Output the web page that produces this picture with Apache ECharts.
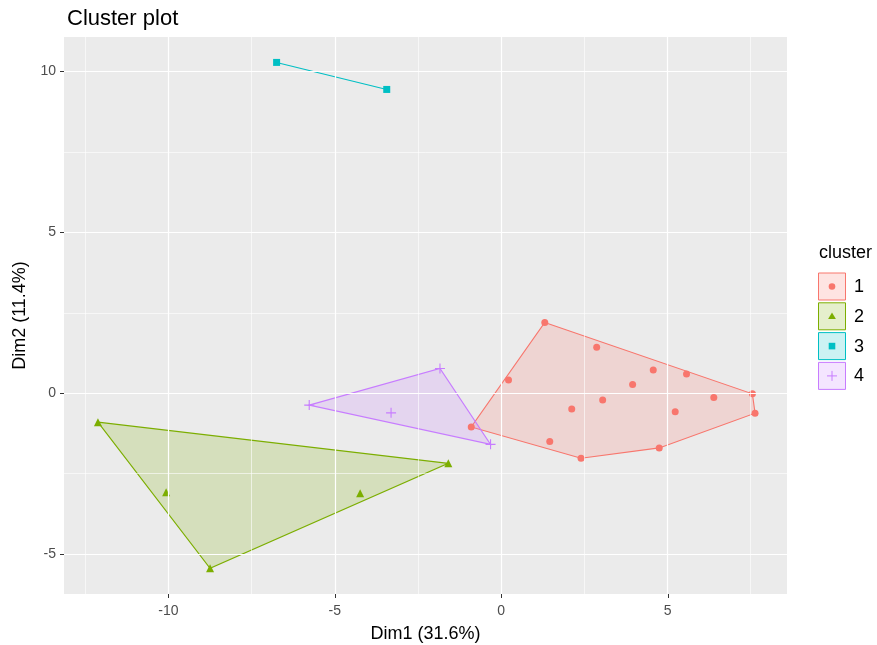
<!DOCTYPE html>
<html>
<head>
<meta charset="utf-8">
<script src="https://cdn.jsdelivr.net/npm/echarts@6/dist/echarts.min.js"></script>
<style>html,body{margin:0;padding:0;background:#fff}#c{width:877px;height:645px}</style>
</head>
<body>
<div id="c"></div>
<script>
// ---- data ----
const cluster1X = [1.31, 2.87, 0.22, 4.57, 5.57, 3.95, 3.05, 2.12, 6.39, 7.55, 7.63, 5.23, -0.90, 1.46, 2.40, 4.75];
const cluster1Y = [2.20, 1.43, 0.41, 0.72, 0.60, 0.27, -0.21, -0.49, -0.13, -0.02, -0.62, -0.58, -1.05, -1.50, -2.02, -1.70];
const cluster1Hull = [0, 9, 10, 15, 14, 12];
const cluster2X = [-12.12, -10.07, -8.75, -4.24, -1.59];
const cluster2Y = [-0.90, -3.08, -5.44, -3.11, -2.18];
const cluster2Hull = [0, 4, 2];
const cluster3X = [-6.75, -3.44];
const cluster3Y = [10.28, 9.44];
const cluster3Hull = [0, 1];
const cluster4X = [-5.77, -1.84, -3.31, -0.32];
const cluster4Y = [-0.37, 0.77, -0.61, -1.59];
const cluster4Hull = [0, 1, 3];
const clusterNames = ['1', '2', '3', '4'];
const xTicks = [-10, -5, 0, 5];
const yTicks = [-5, 0, 5, 10];
const xMinor = [-12.5, -7.5, -2.5, 2.5, 7.5];
const yMinor = [-2.5, 2.5, 7.5];
const xRange = [-13.14, 8.59];
const yRange = [-6.24, 11.07];

const colors = ['#F8766D', '#7CAE00', '#00BFC4', '#C77CFF'];
const fills = ['rgba(248,118,109,0.2)', 'rgba(124,174,0,0.2)', 'rgba(0,191,196,0.2)', 'rgba(199,124,255,0.2)'];
const plusPath = 'path://M4.45,0H5.55V4.45H10V5.55H5.55V10H4.45V5.55H0V4.45H4.45Z';
const symbols = ['circle', 'triangle', 'rect', plusPath];
const symSizes = [7, 8, 7, 10];

const clusters = [
  {x: cluster1X, y: cluster1Y, hull: cluster1Hull},
  {x: cluster2X, y: cluster2Y, hull: cluster2Hull},
  {x: cluster3X, y: cluster3Y, hull: cluster3Hull},
  {x: cluster4X, y: cluster4Y, hull: cluster4Hull}
];

const series = [];
// grid lines
const gl = (w) => ({color: '#FFFFFF', width: w, type: 'solid'});
series.push({
  type: 'scatter', data: [[0, 0]], symbolSize: 0, z: 0, silent: true,
  markLine: {
    silent: true, symbol: ['none', 'none'], label: {show: false}, animation: false,
    emphasis: {disabled: true},
    data: [
      ...xMinor.map(v => ({xAxis: v, lineStyle: gl(0.6)})),
      ...yMinor.map(v => ({yAxis: v, lineStyle: gl(0.6)})),
      ...xTicks.map(v => ({xAxis: v, lineStyle: gl(1.2)})),
      ...yTicks.map(v => ({yAxis: v, lineStyle: gl(1.2)}))
    ]
  }
});
// axis tick marks (outside the panel)
series.push({
  type: 'custom', z: 1, silent: true, animation: false, clip: false,
  data: [[0, 0]],
  renderItem: function (params, api) {
    const children = [];
    xTicks.forEach(v => {
      const p = api.coord([v, yRange[0]]);
      const x = Math.round(p[0]) + 0.5;
      children.push({type: 'line', shape: {x1: x, y1: p[1], x2: x, y2: p[1] + 4}, style: {stroke: '#333333', lineWidth: 1}});
    });
    yTicks.forEach(v => {
      const p = api.coord([xRange[0], v]);
      const y = Math.round(p[1]) + 0.5;
      children.push({type: 'line', shape: {x1: p[0] - 4, y1: y, x2: p[0], y2: y}, style: {stroke: '#333333', lineWidth: 1}});
    });
    return {type: 'group', children: children};
  }
});

clusters.forEach((c, k) => {
  const hullPts = c.hull.map(i => [c.x[i], c.y[i]]);
  series.push({
    type: 'custom', z: 2, silent: true, animation: false,
    data: [[0, 0]],
    renderItem: function (params, api) {
      const pts = hullPts.map(p => api.coord(p));
      if (pts.length === 2) {
        return {type: 'polyline', shape: {points: pts}, style: {fill: null, stroke: colors[k], lineWidth: 1.1}};
      }
      return {type: 'polygon', shape: {points: pts}, style: {fill: fills[k], stroke: colors[k], lineWidth: 1.1}};
    }
  });
  series.push({
    type: 'scatter', z: 3, name: clusterNames[k], animation: false,
    symbol: symbols[k], symbolSize: symSizes[k],
    itemStyle: {color: colors[k], opacity: 1},
    data: c.x.map((v, i) => [v, c.y[i]])
  });
});

const font = '"Liberation Sans", Arial, sans-serif';
// legend (drawn as graphic elements)
const legendEls = [{
  type: 'text', left: 819, top: 244,
  style: {text: 'cluster', font: '18px ' + font, fill: '#000'}
}];
const symShapes = [
  (cx, cy, col) => ({type: 'circle', shape: {cx: cx, cy: cy, r: 3.3}, style: {fill: col}}),
  (cx, cy, col) => ({type: 'polygon', shape: {points: [[cx, cy - 3.8], [cx + 3.9, cy + 2.8], [cx - 3.9, cy + 2.8]]}, style: {fill: col}}),
  (cx, cy, col) => ({type: 'rect', shape: {x: cx - 3.3, y: cy - 3.3, width: 6.6, height: 6.6}, style: {fill: col}}),
  (cx, cy, col) => ({type: 'group', children: [
    {type: 'line', shape: {x1: cx - 5, y1: cy, x2: cx + 5, y2: cy}, style: {stroke: col, lineWidth: 1}},
    {type: 'line', shape: {x1: cx, y1: cy - 5, x2: cx, y2: cy + 5}, style: {stroke: col, lineWidth: 1}}
  ]})
];
clusterNames.forEach((n, k) => {
  const top = 273 + k * 29.8;
  legendEls.push({type: 'rect', shape: {x: 818.5, y: top, width: 27, height: 27}, style: {fill: fills[k], stroke: colors[k], lineWidth: 1}});
  legendEls.push(symShapes[k](832, top + 13.5, colors[k]));
  legendEls.push({type: 'text', left: 854, top: top + 5, style: {text: n, font: '18px ' + font, fill: '#000'}});
});

const chart = echarts.init(document.getElementById('c'), null, {renderer: 'canvas'});
chart.setOption({
  animation: false,
  backgroundColor: '#FFFFFF',
  title: {text: 'Cluster plot', left: 62, top: 3, textStyle: {fontFamily: font, fontSize: 22, fontWeight: 'normal', color: '#000'}},
  grid: {left: 64, right: 90, top: 37, bottom: 51, show: true, backgroundColor: '#EBEBEB', borderWidth: 0, containLabel: false, outerBoundsMode: 'none'},
  xAxis: {
    type: 'value', min: xRange[0], max: xRange[1],
    name: 'Dim1 (31.6%)', nameLocation: 'middle', nameGap: 31,
    nameTextStyle: {fontFamily: font, fontSize: 18, color: '#000'},
    axisLine: {show: false},
    splitLine: {show: false},
    axisTick: {show: false},
    axisLabel: {customValues: xTicks, color: '#4D4D4D', fontFamily: font, fontSize: 14, margin: 10}
  },
  yAxis: {
    type: 'value', min: yRange[0], max: yRange[1],
    name: 'Dim2 (11.4%)', nameLocation: 'middle', nameGap: 28,
    nameTextStyle: {fontFamily: font, fontSize: 18, color: '#000'},
    axisLine: {show: false},
    splitLine: {show: false},
    axisTick: {show: false},
    axisLabel: {customValues: yTicks, color: '#4D4D4D', fontFamily: font, fontSize: 14, margin: 8}
  },
  graphic: legendEls,
  series: series
});
</script>
</body>
</html>
